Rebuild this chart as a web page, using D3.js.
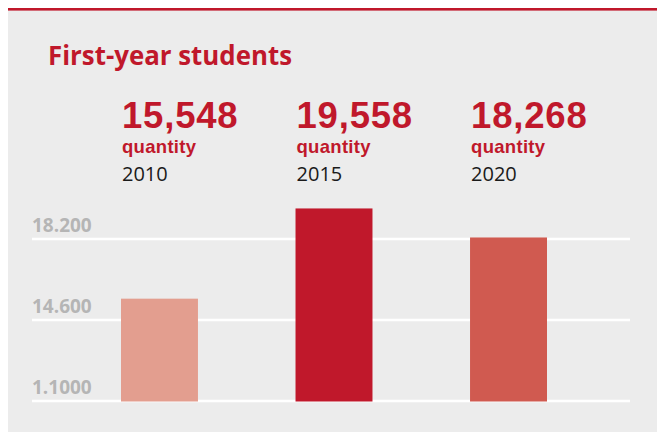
<!DOCTYPE html>
<html>
<head>
<meta charset="utf-8">
<script src="https://cdn.jsdelivr.net/npm/d3@7"></script>
<style>
  body { margin: 0; background: #fff; }
  text { font-family: "Open Sans", sans-serif; }
  .fig { font-family: "Liberation Sans", Arial, sans-serif; }
</style>
</head>
<body>
<div id="chart-container"></div>
<script>
// data
const years = ["2010", "2015", "2020"];
const students = [15548, 19558, 18268];
const valueLabels = ["15,548", "19,558", "18,268"];
const barColors = ["#e39e8f", "#c0182b", "#d05a50"];
const tickValues = [11000, 14600, 18200];
const tickLabels = ["1.1000", "14.600", "18.200"];

const W = 657, H = 432;
const red = "#c0182b";

const svg = d3.select("#chart-container")
  .append("svg")
  .attr("width", W)
  .attr("height", H);

// panel + top red rule
svg.append("rect")
  .attr("x", 8).attr("y", 10)
  .attr("width", W - 8).attr("height", H - 10)
  .attr("fill", "#ececec");
svg.append("rect")
  .attr("x", 8).attr("y", 8)
  .attr("width", W - 8).attr("height", 2.6)
  .attr("fill", red);

svg.append("text")
  .attr("x", 48).attr("y", 65)
  .attr("fill", red)
  .attr("font-size", 26)
  .attr("font-weight", 700)
  .attr("textLength", 244)
  .attr("lengthAdjust", "spacingAndGlyphs")
  .text("First-year students");

// scales
const x = d3.scaleBand()
  .domain(years)
  .range([121, 547])
  .paddingInner(0.559)
  .paddingOuter(0);

const y = d3.scaleLinear()
  .domain([11000, 18200])
  .range([401, 239]);

// gridlines
const grid = svg.append("g");
grid.selectAll("line")
  .data(tickValues)
  .join("line")
  .attr("x1", 32).attr("x2", 630)
  .attr("y1", d => y(d)).attr("y2", d => y(d))
  .attr("stroke", "#ffffff")
  .attr("stroke-width", 2.5);

grid.selectAll("text")
  .data(tickValues)
  .join("text")
  .attr("x", 32)
  .attr("y", d => y(d) - 7.5)
  .attr("fill", "#b5b5b5")
  .attr("font-size", 19)
  .attr("font-weight", 700)
  .text((d, i) => tickLabels[i]);

// bars
svg.append("g")
  .selectAll("rect")
  .data(years)
  .join("rect")
  .attr("x", d => x(d))
  .attr("width", x.bandwidth())
  .attr("y", (d, i) => y(students[i]))
  .attr("height", (d, i) => y(11000) - y(students[i]) + 0.5)
  .attr("fill", (d, i) => barColors[i]);

// headline figures above each bar
const heads = svg.append("g")
  .selectAll("g")
  .data(years)
  .join("g")
  .attr("transform", d => `translate(${x(d) + 1},0)`);

heads.append("text")
  .attr("class", "fig")
  .attr("y", 127.5)
  .attr("fill", red)
  .attr("font-size", 36.5)
  .attr("font-weight", 700)
  .attr("letter-spacing", 0.8)
  .text((d, i) => valueLabels[i]);

heads.append("text")
  .attr("class", "fig")
  .attr("y", 152.5)
  .attr("fill", red)
  .attr("font-size", 18.5)
  .attr("font-weight", 700)
  .attr("letter-spacing", 0.3)
  .text("quantity");

heads.append("text")
  .attr("y", 181)
  .attr("fill", "#1a1a1a")
  .attr("font-size", 20)
  .text(d => d);
</script>
</body>
</html>
